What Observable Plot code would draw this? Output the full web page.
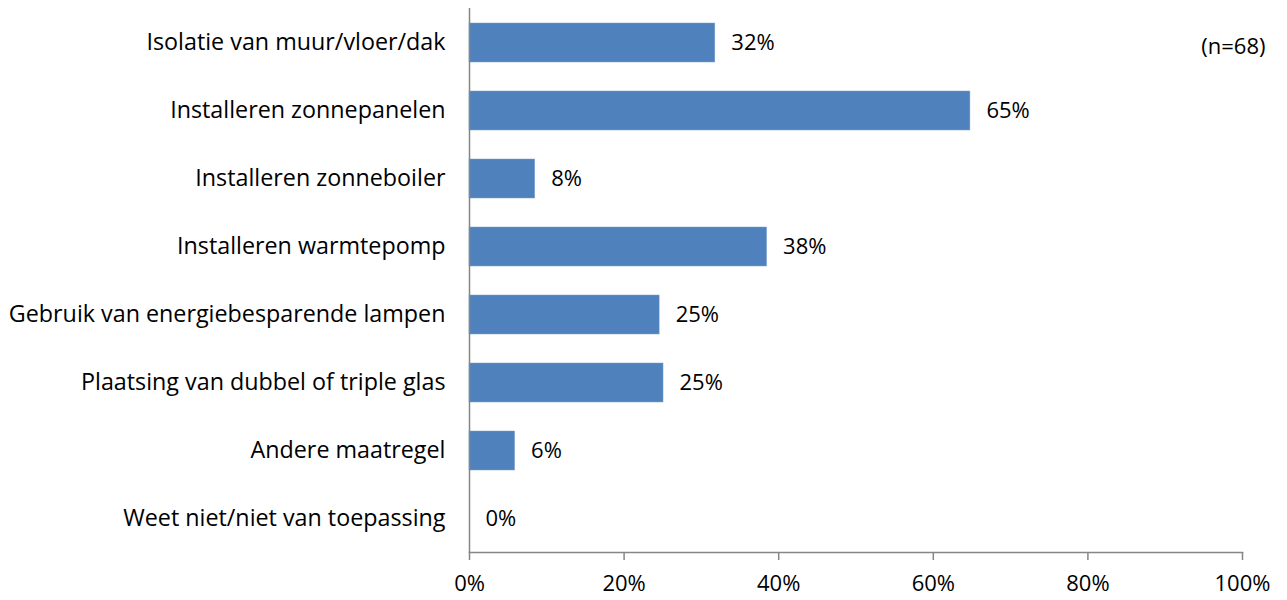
<!DOCTYPE html>
<html>
<head>
<meta charset="utf-8">
<script src="https://cdn.jsdelivr.net/npm/d3@7"></script>
<script src="https://cdn.jsdelivr.net/npm/@observablehq/plot@0.6"></script>
<style>
  html, body { margin: 0; padding: 0; background: #fff; }
  #chart { width: 1287px; height: 600px; }
  svg { font-family: "Open Sans", sans-serif; }
</style>
</head>
<body>
<div id="chart"></div>
<script>
const categories = [
  "Isolatie van muur/vloer/dak",
  "Installeren zonnepanelen",
  "Installeren zonneboiler",
  "Installeren warmtepomp",
  "Gebruik van energiebesparende lampen",
  "Plaatsing van dubbel of triple glas",
  "Andere maatregel",
  "Weet niet/niet van toepassing"
];
const values = [31.8, 64.8, 8.5, 38.5, 24.6, 25.1, 5.9, 0];
const valueLabels = ["32%", "65%", "8%", "38%", "25%", "25%", "6%", "0%"];
const xTicks = [0, 20, 40, 60, 80, 100];
const note = "(n=68)";

const data = categories.map((c, i) => ({category: c, value: values[i], label: valueLabels[i]}));

const chart = Plot.plot({
  width: 1287,
  height: 600,
  marginLeft: 469,
  marginRight: 45,
  marginTop: 8,
  marginBottom: 48,
  style: {fontSize: "22px", fontFamily: "'Open Sans', sans-serif", color: "#000", background: "#fff"},
  x: {domain: [0, 100], ticks: xTicks, tickFormat: d => d + "%"},
  y: {domain: categories, paddingInner: 0.43, paddingOuter: 0.215},
  marks: [
    Plot.barX(data, {x: "value", y: "category", fill: "#4f81bd", stroke: "#7da2cf", strokeWidth: 0.5}),
    Plot.text(data, {x: "value", y: "category", text: "label", textAnchor: "start", dx: 16, fontSize: 22, fill: "#000"}),
    Plot.ruleX([0], {stroke: "#868686", strokeWidth: 1.5}),
    Plot.frame({anchor: "bottom", stroke: "#868686", strokeWidth: 1.5}),
    Plot.axisY({tickSize: 0, tickPadding: 24, fontSize: 23.3, label: null}),
    Plot.axisX({ticks: xTicks, tickFormat: d => d + "%", tickSize: 8, tickPadding: 15, stroke: "#868686", strokeWidth: 1.5, fontSize: 22, label: null}),
    Plot.text([note], {frameAnchor: "top-right", text: d => d, textAnchor: "end", dx: 23, dy: 30, fontSize: 22, fill: "#000"})
  ]
});
document.getElementById("chart").appendChild(chart);
</script>
</body>
</html>
